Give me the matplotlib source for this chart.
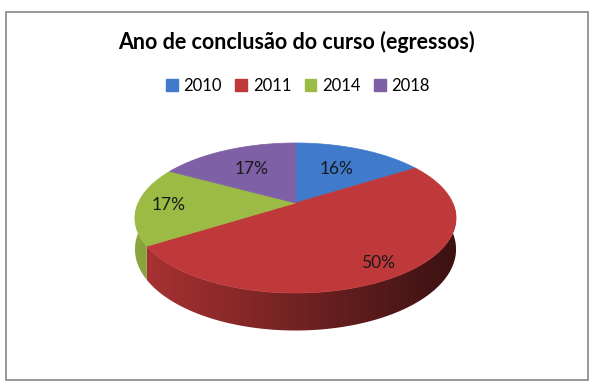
import numpy as np
import matplotlib
matplotlib.use("Agg")
import matplotlib.pyplot as plt
from matplotlib.patches import Polygon, Rectangle, Patch
from matplotlib.colors import to_rgb

# ---- data ----
title = "Ano de conclusão do curso (egressos)"
categories = ["2010", "2011", "2014", "2018"]
values = [16, 50, 17, 17]
labels = ["16%", "50%", "17%", "17%"]
colors = ["#3F7ACB", "#C0393A", "#9BBB45", "#7F5FA5"]

# ---- geometry (pixel space) ----
W, H = 606, 385
cx, cy = 295.5, 203.0      # projected pie centre
A, B = 157.3, 72.0          # horizontal / depth scale
K = 0.2                     # perspective strength
D = 30.0                    # thickness
label_r = [0.6, 0.84, 0.8, 0.6]

def proj(theta_deg, r=1.0):
    t = np.radians(theta_deg)
    u = r * np.cos(t)
    v = -r * np.sin(t)      # v>0 toward viewer
    w = 1 - K * v
    return cx + A * u / w, cy + B * v / w, w

fig = plt.figure(figsize=(W / 100, H / 100), dpi=100)
ax = fig.add_axes([0, 0, 1, 1])
ax.set_xlim(0, W)
ax.set_ylim(H, 0)
ax.axis("off")

ax.add_patch(Rectangle((5.5, 11.5), 582, 368, fill=False, ec="#868686", lw=1.2))

total = float(sum(values))
fracs = [v / total for v in values]
starts = []
s = 90.0
for f in fracs:
    starts.append((s - f * 360.0, s))   # clockwise from top
    s -= f * 360.0

# side walls, shaded by a horizontal gradient clipped to each wall
gx = np.linspace(cx - A * 1.05, cx + A * 1.05, 400)
shade = 0.6 - 0.29 * np.clip((gx - cx) / (A * 1.02), -1, 1)
for (t1, t2), col in zip(starts, colors):
    base = np.array(to_rgb(col))
    for shift in (0, 360, -360):
        a = max(t1 + shift, -180.0)
        b = min(t2 + shift, 0.0)
        if b <= a:
            continue
        th = np.linspace(a, b, 200)
        xs, ys, ws = proj(th)
        top = list(zip(xs, ys))
        bot = list(zip(xs[::-1], (ys + D / ws)[::-1]))
        poly = Polygon(top + bot, closed=True, fc="none", ec="none")
        ax.add_patch(poly)
        img = np.clip(base[None, None, :] * shade[None, :, None], 0, 1)
        im = ax.imshow(img, extent=(gx[0], gx[-1], cy + B * 2, cy - B),
                       aspect="auto", interpolation="bilinear", zorder=1)
        im.set_clip_path(poly)

# top faces
for (t1, t2), col in zip(starts, colors):
    th = np.linspace(t2, t1, 200)
    xs, ys, _ = proj(th)
    pts = [(cx, cy)] + list(zip(xs, ys))
    ax.add_patch(Polygon(pts, closed=True, fc=col, ec=col, lw=0.5, zorder=2))

# labels
for (t1, t2), lab, r in zip(starts, labels, label_r):
    xm, ym, _ = proj(0.5 * (t1 + t2), r)
    ax.text(xm, ym, lab, ha="center", va="center", fontsize=12.5,
            family="Lato", color="#1a1a1a", zorder=3)

ax.set_xlim(0, W)
ax.set_ylim(H, 0)

ax.text(296, 42, title, ha="center", va="center", fontsize=15.5,
        fontweight="bold", family="Lato", color="#000000")

handles = [Patch(fc=c, ec=c) for c in colors]
fig.legend(handles, categories, loc="center", bbox_to_anchor=(298 / W, 1 - 86 / H),
           ncol=4, frameon=False, handlelength=0.7, handleheight=0.7,
           handletextpad=0.35, columnspacing=0.8,
           prop={"family": "Lato", "size": 12})

fig.savefig("out.png", dpi=100)
